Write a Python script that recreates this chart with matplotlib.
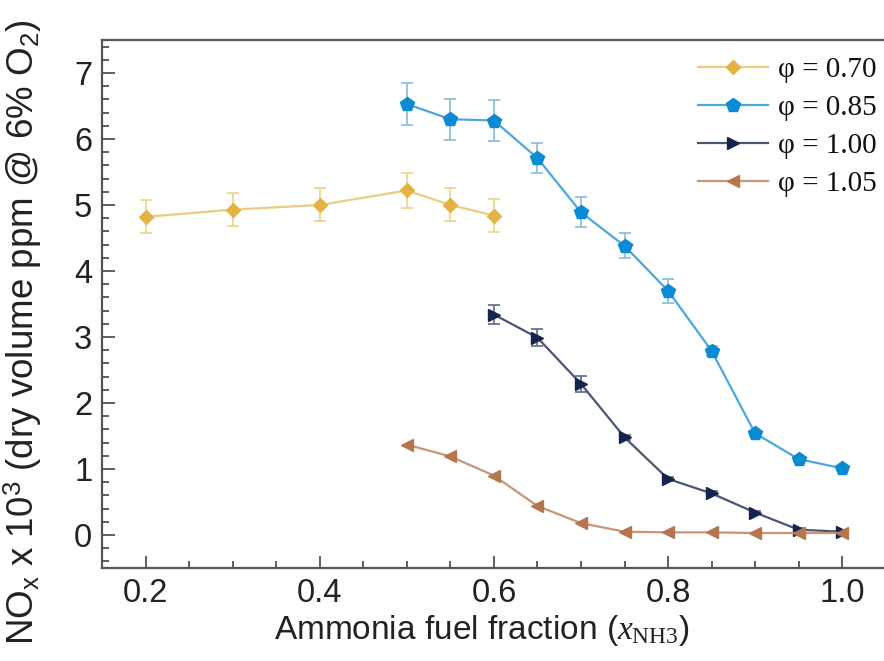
import numpy as np
import matplotlib
matplotlib.use('Agg')
import matplotlib.pyplot as plt
from matplotlib.ticker import MultipleLocator

plt.rcParams['font.family'] = ['Liberation Sans', 'DejaVu Sans']
plt.rcParams['mathtext.fontset'] = 'custom'
plt.rcParams['mathtext.rm'] = 'Liberation Sans'
plt.rcParams['mathtext.it'] = 'Liberation Serif:italic'
plt.rcParams['mathtext.bf'] = 'Liberation Serif'

# Data
x_070 = [0.2, 0.3, 0.4, 0.5, 0.55, 0.6]
y_070 = [4.82, 4.93, 5.0, 5.22, 5.0, 4.84]
e_070 = [0.25, 0.25, 0.25, 0.27, 0.25, 0.25]

x_085 = [0.5, 0.55, 0.6, 0.65, 0.7, 0.75, 0.8, 0.85, 0.9, 0.95, 1.0]
y_085 = [6.53, 6.30, 6.28, 5.71, 4.89, 4.38, 3.70, 2.79, 1.54, 1.15, 1.01]
e_085 = [0.32, 0.31, 0.31, 0.23, 0.23, 0.19, 0.18, 0.08, 0.04, 0.03, 0.03]

x_100 = [0.6, 0.65, 0.7, 0.75, 0.8, 0.85, 0.9, 0.95, 1.0]
y_100 = [3.34, 2.99, 2.29, 1.48, 0.85, 0.63, 0.34, 0.08, 0.05]
e_100 = [0.15, 0.13, 0.12, 0.04, 0.03, 0.03, 0.02, 0.02, 0.02]

x_105 = [0.5, 0.55, 0.6, 0.65, 0.7, 0.75, 0.8, 0.85, 0.9, 0.95, 1.0]
y_105 = [1.37, 1.19, 0.90, 0.44, 0.18, 0.05, 0.04, 0.04, 0.03, 0.03, 0.03]

labels = ['φ = 0.70', 'φ = 0.85', 'φ = 1.00', 'φ = 1.05']

series = [
    (x_070, y_070, e_070, '#E5B343', '#EDCB80', '#F0D590', 'D', 7.5),
    (x_085, y_085, e_085, '#0A8AD2', '#4AA8DD', '#8FBFDC', 'p', 10.5),
    (x_100, y_100, e_100, '#15244F', '#4B5573', '#6B7390', '>', 9),
    (x_105, y_105, None, '#B5754F', '#C89578', '#C89578', '<', 9),
]

fig = plt.figure(figsize=(8.84, 6.61), dpi=100)
ax = fig.add_axes([0.1154, 0.1407, 0.8866, 0.7988])

for (x, y, e, mc, lc, ec, mk, ms), lab in zip(series, labels):
    if e is not None:
        ax.errorbar(x, y, yerr=e, fmt='none', ecolor=ec, elinewidth=1.3,
                    capsize=4, capthick=1.3, zorder=2)
    ax.plot(x, y, color=lc, lw=1.6, marker=mk, markersize=ms,
            markerfacecolor=mc, markeredgecolor=mc, label=lab, zorder=3)

ax.set_xlim(0.15, 1.05)
ax.set_ylim(-0.5, 7.5)
ax.xaxis.set_major_locator(MultipleLocator(0.2))
ax.xaxis.set_minor_locator(MultipleLocator(0.05))
ax.yaxis.set_major_locator(MultipleLocator(1))
ax.yaxis.set_minor_locator(MultipleLocator(0.2))
ax.set_xticks([0.2, 0.4, 0.6, 0.8, 1.0])
ax.set_xticklabels(['0.2', '0.4', '0.6', '0.8', '1.0'])

ax.tick_params(which='both', direction='in', top=False, right=False,
               colors='#444444', labelcolor='#222222', labelsize=23.5, width=1.2)
ax.tick_params(which='major', length=9, pad=7)
ax.tick_params(which='minor', length=5)
for s in ax.spines.values():
    s.set_color('#555555')
    s.set_linewidth(1.6)

ax.set_xlabel(r'Ammonia fuel fraction ($x_{\mathbf{NH3}}$)', fontsize=24,
              color='#222222')
ax.set_ylabel(r'NO$_\mathrm{x}$ x 10$^3$ (dry volume ppm @ 6% O$_2$)',
              fontsize=26.5, color='#222222')
ax.xaxis.set_label_coords(0.484, -0.085)
ax.yaxis.set_label_coords(-0.074, 0.447)

leg = ax.legend(loc='upper right', bbox_to_anchor=(1.022, 1.018), frameon=False,
                prop={'family': 'Liberation Serif', 'size': 21},
                handlelength=2.4, labelspacing=0.4, handletextpad=0.35)
for t in leg.get_texts():
    t.set_color('#111111')

plt.savefig('out.png', dpi=100)
